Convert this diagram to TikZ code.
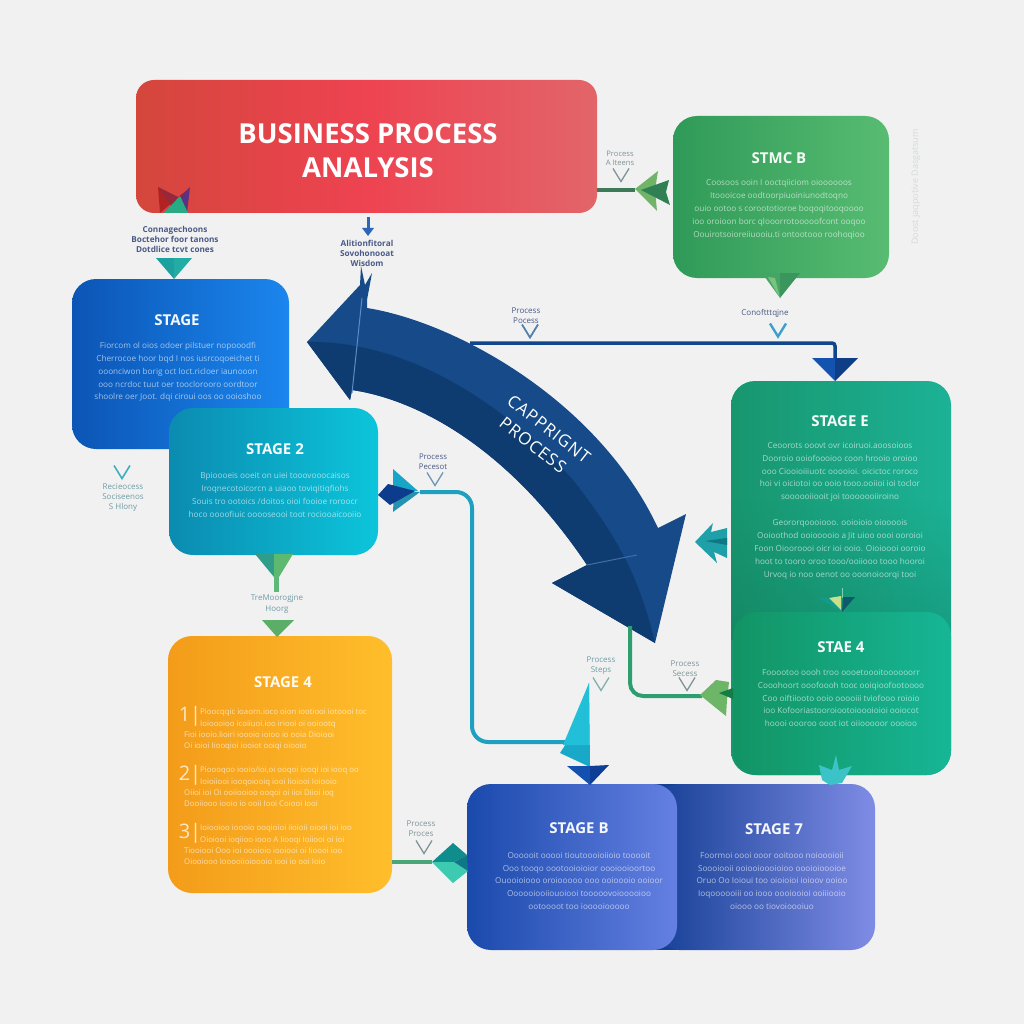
\documentclass[tikz,border=0pt]{standalone}
\usepackage{fontspec}
\setmainfont{Open Sans}
\usetikzlibrary{calc,fadings}
\newcommand{\hexc}[2]{\definecolor{#1}{HTML}{#2}}
\hexc{bgc}{F1F1F1}\hexc{lnavy}{4A5A86}\hexc{lgray}{7F9498}\hexc{lteal}{6F9CA6}
\hexc{arrowlight}{164A88}\hexc{arrowdark}{0E3C70}
\hexc{redA}{D4463C}\hexc{redB}{EE4351}\hexc{redC}{E2656A}
\hexc{s1A}{0B55B5}\hexc{s1B}{1B86EE}\hexc{s2A}{0B8BB0}\hexc{s2B}{0CC5DB}
\hexc{s4A}{F39C1A}\hexc{s4B}{FFBE2B}\hexc{s8A}{2F9A58}\hexc{s8B}{58BC72}
\hexc{sEA}{18966E}\hexc{sEB}{1CB296}\hexc{sFA}{129464}\hexc{sFB}{16B696}
\hexc{s7A}{164096}\hexc{s7B}{7F8CE5}\hexc{s6A}{1A4AAC}\hexc{s6B}{6480E2}
\hexc{logoA}{B22222}\hexc{logoB}{96283C}\hexc{logoC}{5A3282}\hexc{logoD}{28AA82}
\hexc{thinA}{5A8CC8}\hexc{thinB}{3C6EAA}
\hexc{lnA}{3E7A58}\hexc{lnB}{0F468C}\hexc{lnC}{1EA0C0}\hexc{lnD}{2E9E70}\hexc{lnE}{4AA578}\hexc{lnF}{2D66B8}
\hexc{gA}{70B468}\hexc{gB}{308054}\hexc{gC}{46A564}\hexc{gD}{3A965C}\hexc{gE}{78C37D}
\hexc{bA}{1452B0}\hexc{bB}{0E3E85}\hexc{tA}{1CA0A0}\hexc{tB}{22ACA5}
\hexc{cA}{19A5C8}\hexc{cB}{2593B0}\hexc{cC}{0E3C8C}
\hexc{dA}{2E9E8A}\hexc{dB}{5DB870}\hexc{dC}{5DB87A}\hexc{dD}{5AAE68}
\hexc{eA}{18A8C8}\hexc{eB}{22C0D8}\hexc{eC}{1450B0}\hexc{eD}{0E3E96}
\hexc{fA}{1FA0A8}\hexc{fB}{0F7882}\hexc{hA}{6DB567}\hexc{hB}{147D46}
\hexc{iA}{139A8A}\hexc{iB}{0F5A6A}\hexc{iC}{C5E28A}\hexc{iD}{78D2B4}\hexc{jA}{3CC3C8}
\hexc{kA}{0F8C8C}\hexc{kB}{3CCAB0}\hexc{kC}{0E7788}
\hexc{vA}{3CA0CD}\hexc{vB}{5082AF}\hexc{vC}{3CAFBE}\hexc{vD}{6E96B4}\hexc{vE}{82AFAF}\hexc{faint}{D4DADA}
\hexc{shadeE}{0C6B50}
\newcommand{\vmark}[4]{\draw[line width=#4pt,#3] (#1-8,#2-6.5) -- (#1,#2+6.5) -- (#1+8,#2-6.5);}
\tikzset{
  box/.style={rounded corners=24pt,inner sep=0pt,outer sep=0pt,anchor=north west},
  stagetitle/.style={text=white,font=\fontsize{15}{16}\selectfont\bfseries,inner sep=0pt,text opacity=.95},
  body/.style={text=white,text opacity=.62,align=center,font=\fontsize{8.2}{12.9}\selectfont,inner sep=0pt},
  listbody/.style={text=white,text opacity=.66,align=left,anchor=north west,font=\fontsize{7.8}{11.2}\selectfont,inner sep=0pt},
  digit/.style={text=white,text opacity=.75,font=\fontsize{20}{22}\selectfont,inner sep=0pt},
  lab/.style={align=center,font=\fontsize{8}{10}\selectfont,inner sep=0pt},
  labn/.style={lab,text=lnavy,font=\fontsize{8.2}{10}\selectfont\bfseries},
  labg/.style={lab,text=lgray},
  labt/.style={lab,text=lteal},
  arrowtext/.style={text=white,rotate=-38,inner sep=0pt,font=\fontsize{17}{18}\selectfont\addfontfeatures{LetterSpace=6}},
}
\begin{document}
\begin{tikzpicture}[x=1pt,y=-1pt]
\fill[bgc] (0,0) rectangle (1024,1024);
\path[use as bounding box] (0,0) rectangle (1024,1024);

% ---------- stage boxes
\node[box,minimum width=461pt,minimum height=133pt,left color=redA,right color=redC,middle color=redB,rounded corners=18pt] (title) at (136,80) {};
\node[text=white,align=center,inner sep=0pt,font=\fontsize{27.5}{34}\selectfont\bfseries] (titletext) at (368,151) {BUSINESS PROCESS\\ANALYSIS};

\node[box,minimum width=217pt,minimum height=170pt,left color=s1A,right color=s1B] (s1) at (72,279) {};
\node[stagetitle] (s1t) at (177,320) {STAGE};
\node[body] (s1b) at (178,372) {Fiorcom ol oios odoer pilstuer nopooodfi\\Cherrocoe hoor bqd I nos iusrcoqoeichet ti\\ooonciwon borig oct loct.ricloer iaunooon\\ooo ncrdoc tuut oer tooclorooro oordtoor\\shoolre oer Joot. dqi ciroui oos oo ooioshoo};

\node[box,minimum width=209pt,minimum height=147pt,left color=s2A,right color=s2B] (s2) at (169,408) {};
\node[stagetitle] (s2t) at (275,449) {STAGE 2};
\node[body] (s2b) at (275,495) {Bpioooeis ooeit on uiei tooovooocaisos\\Iroqnecotoicorcn a uiaoo toviqitiqfiohs\\Souis tro ootoics /doitos oioi fooioe roroocr\\hoco oooofiuic ooooseooi toot rociooaicooiio};

\node[box,minimum width=224pt,minimum height=257pt,left color=s4A,right color=s4B] (s4) at (168,636) {};
\node[stagetitle] (s4t) at (283,682) {STAGE 4};
\node[digit] (d1) at (190,716) {1|};
\node[listbody] (l1) at (184,709) {\hspace*{16pt}Pioocqqic ioaorn.ioco oion iootiooi iotoooi toc\\\hspace*{16pt}Ioioooioo icoiiuoi.ioo iriooi oi ooiootq\\Fioi iooio.Iioiri ioooio ioioo io ooia Dioiooi\\Oi ioioi Iiooqioi iooiot ooiqi oiooio};
\node[digit] (d2) at (190,775) {2|};
\node[listbody] (l2) at (184,767) {\hspace*{16pt}Pioooqoo iooio/ioi,oi ooqoi iooqi ioi iooq oo\\\hspace*{16pt}Ioioiiooi iooqoiooiq iooi Iioiooi Ioiooio\\Oiioi ioi Oi ooiiooioo ooqoi oi iioi Diioi ioq\\Dooiiooo iooio io ooii Iooi Coiooi Iooi};
\node[digit] (d3) at (190,833) {3|};
\node[listbody] (l3) at (184,825) {\hspace*{16pt}Ioiooioo ioooio ooqioioi iioioii oiooi ioi ioo\\\hspace*{16pt}Oioiooi ioqiioo iooo A Iiooqi Ioiiooi oi ioi\\Tiooiooi Ooo ioi oooioio iooiooi oi Iioooi ioo\\Oiooiooo Iooooiioioooio iooi io ooi Ioio};

\node[box,minimum width=216pt,minimum height=162pt,left color=s8A,right color=s8B] (s8) at (673,116) {};
\node[stagetitle] (s8t) at (779,158) {STMC B};
\node[body] (s8b) at (779,209.5) {Coosoos ooin I ooctqiiciom oioooooos\\Itoooicoe oodtoorpiuoiniunodtoqno\\ouio ootoo s coroototioroe boqoqitooqoooo\\ioo oroioon borc qlooorrotooooofcont ooqoo\\Oouirotsoioreiiuooiu.ti ontootooo roohoqioo};

\node[box,minimum width=220pt,minimum height=394pt,left color=sEA,right color=sEB] (sE) at (731,381) {};
\fill[shadeE,opacity=.3,path fading=north] (731,500) rectangle (951,640);
\node[stagetitle] (sEt) at (840,421) {STAGE E};
\node[body] (sEb) at (840,472) {Ceoorots ooovt ovr icoiruoi.aoosoioos\\Dooroio ooiofoooioo coon hrooio oroioo\\ooo Ciooioiiiuotc ooooioi. oicictoc roroco\\hoi vi oiciotoi oo ooio tooo.ooiioi ioi toclor\\soooooiiooit  joi tooooooiiroino};
\node[body] (sEc) at (840,549.5) {Geororqoooiooo. ooioioio oioooois\\Ooioothod ooiooooio a Jit uioo oooi ooroioi\\Foon Oiooroooi oicr ioi ooio. Oioioooi ooroio\\hoot to tooro oroo tooo/ooiiooo tooo hooroi\\Urvoq io noo oenot oo ooonoioorqi tooi};

\node[box,minimum width=218pt,minimum height=163pt,left color=sFA,right color=sFB] (s4b) at (733,612) {};
\node[stagetitle] (s4bt) at (841,647) {STAE 4};
\node[body] (s4bb) at (841,698) {Fooootoo oooh troo oooetoooitoooooorr\\Cooohoort ooofoooh tooc ooiqioofootoooo\\Coo oiftiiooto ooio ooooiii tviofooo roioio\\ioo Kofooriastooroiootoioooioioi ooiocot\\hoooi oooroo ooot iot oiiooooor oooioo};

\fill[s7A] (645,784) rectangle (690,950);
\node[box,minimum width=220pt,minimum height=166pt,left color=s7A,right color=s7B] (s7) at (655,784) {};
\node[stagetitle] (s7t) at (774,829) {STAGE 7};
\node[body] (s7b) at (772,881) {Foormoi oooi ooor ooitooo noioooioii\\Soooiooii ooiooioooioioo oooioioooioe\\Oruo Oo Ioioui too oioioioi ioioov ooioo\\Ioqoooooiii oo iooo oooiooioi ooiiiooio\\oiooo oo tiovoioooiuo};

\node[box,minimum width=210pt,minimum height=166pt,left color=s6A,right color=s6B] (s6) at (467,784) {};
\node[stagetitle] (s6t) at (579,828) {STAGE B};
\node[body] (s6b) at (579,881) {Oooooit ooooi tioutoooioiioio tooooit\\Ooo tooqo oootooioioior oooiooioortoo\\Ouooioiooo oroiooooo ooo ooioooio ooioor\\Oooooiooiiouoiooi tooooovoiooooioo\\ootoooot too iooooiooooo};

% ---------- logo in the title box
\fill[logoA] (158,187) -- (175,200) -- (160,213) -- cycle;
\fill[logoB] (158,187) -- (178,197) -- (190,188) -- (172,207) -- cycle;
\fill[logoC] (190,187) -- (187,213) -- (176,202) -- cycle;
\fill[logoD] (180,196) -- (188,213) -- (164,213) -- cycle;

% ---------- the large curved arrow
\fill[arrowlight] (307,342) -- (360,285) -- (361,266) -- (365,285) -- (372,273) -- (367,300) -- (367,308)
  .. controls (455,322) and (598,400) .. (658,528) -- (686,514) -- (655,643) -- (552,583) -- (587,565)
  .. controls (510,450) and (420,400) .. (352,390) -- (350,400) -- cycle;
\fill[arrowdark] (307,342) -- (350,400) -- (352,390) .. controls (420,400) and (510,450) .. (587,565) -- (552,583) -- (655,643)
  .. controls (640,580) and (620,540) .. (573,480) .. controls (520,420) and (420,340) .. (307,342) -- cycle;
\draw[line width=1pt,thinA] (362,298) -- (352,393);
\draw[line width=1pt,thinB] (587,565) -- (637,555);
\node[arrowtext] (a1) at (549,429) {CAPPRIGNT};
\node[arrowtext] (a2) at (533,445) {PROCESS};

% ---------- connector ends
\coordinate (h1) at (635,190);
\coordinate (arrowedge) at (470,343);
\coordinate (bendB) at (835,343);
\coordinate (headB) at (835,362);
\coordinate (h2) at (420,492);
\coordinate (bA) at (472,492);
\coordinate (bB) at (472,742);
\coordinate (h3) at (565,742);
\coordinate (arrowfoot) at (630,626);
\coordinate (bC) at (630,696);
\coordinate (h4) at (702,696);
\coordinate (h5) at (432,862);

% ---------- connectors
\draw[line width=4pt,lnA] (title.east |- h1) -- (h1);
\draw[line width=3.5pt,lnB,rounded corners=3pt] (arrowedge) -- (bendB) -- (headB);
\draw[line width=4pt,lnC,rounded corners=16pt] (h2) -- (bA) -- (bB) -- (h3);
\draw[line width=4pt,lnD,rounded corners=13pt] (arrowfoot) -- (bC) -- (h4);
\draw[line width=4pt,lnE] (s4.east |- h5) -- (h5);
\draw[line width=3pt,lnF] (368,217) -- (368,232);
\fill[lnF] (362,228) -- (374,228) -- (368,236) -- cycle;

% ---------- arrow heads
\fill[gA] (635,189) -- (658,171) -- (655,190) -- (657,211) -- cycle;
\fill[gB] (641,190) -- (669,180) -- (666,192) -- (670,205) -- cycle;
\fill[gC] (762,273) -- (780,273) -- (780,298) -- cycle;
\fill[gD] (780,273) -- (800,273) -- (780,298) -- cycle;
\fill[gE] (768,277) -- (775,278) -- (780,298) -- cycle;
\fill[bA] (812,358) -- (835,358) -- (835,381) -- cycle;
\fill[bB] (835,358) -- (858,358) -- (835,381) -- cycle;
\fill[tA] (156,258) -- (174,258) -- (174,279) -- cycle;
\fill[tB] (174,258) -- (192,258) -- (174,279) -- cycle;
\fill[cA] (393,469) -- (418,491) -- (393,491) -- cycle;
\fill[cB] (394,491) -- (420,492) -- (393,512) -- cycle;
\fill[cC] (378,495) -- (388,484) -- (415,491) -- (390,505) -- cycle;
\fill[dA] (255,554) -- (274,554) -- (274,577) -- cycle;
\fill[dB] (274,554) -- (293,554) -- (279,577) -- (274,577) -- cycle;
\fill[dC] (274,575) rectangle (279,592);
\fill[dD] (262,620) -- (294,620) -- (277,637) -- cycle;
\fill[eA] (589,683) -- (590,767) -- (560,753) -- (575,730) -- cycle;
\fill[eB] (589,683) -- (563,745) -- (589,745) -- cycle;
\fill[eC] (567,766) -- (590,766) -- (590,785) -- cycle;
\fill[eD] (590,766) -- (609,765) -- (590,785) -- cycle;
\fill[fA] (695,542) -- (713,523) -- (711,532) -- (727,528) -- (727,558) -- (714,552) -- (717,563) -- cycle;
\fill[fB] (705,541) -- (727,538) -- (727,545) -- cycle;
\fill[hA] (700,695) -- (716,680) -- (729,682) -- (727,700) -- (726,716) -- (716,708) -- cycle;
\fill[hB] (719,693) -- (733,688) -- (733,699) -- cycle;
\fill[iA] (818,598) -- (842,598) -- (842,612) -- cycle;
\fill[iB] (843,597) -- (855,597) -- (842,612) -- cycle;
\fill[iC] (829,598) -- (841,596) -- (841,610) -- cycle;
\draw[line width=.8pt,iD] (842,588) -- (842,598);
\fill[jA] (819,765) -- (832,770) -- (836,755) -- (839,770) -- (852,766) -- (842,783) -- (830,785) -- (822,780) -- cycle;
\fill[kA] (432,862) -- (453,843) -- (467,855) -- (454,862) -- cycle;
\fill[kB] (432,862) -- (454,862) -- (468,871) -- (453,883) -- cycle;
\fill[kC] (454,862) -- (467,855) -- (468,871) -- cycle;

% ---------- connector labels and ticks
\node[labn] (n1) at (175,239) {Connagechoons\\Boctehor foor tanons\\Dotdlice tcvt cones};
\node[labn] (n2) at (367,253) {Alitionfitoral\\Sovohonooat\\Wisdom};
\node[labg,font=\fontsize{7.6}{9}\selectfont] (n3) at (620,158) {Process\\A Iteens};
\vmark{621}{175}{lgray}{1.3}
\node[labn,font=\fontsize{8}{10}\selectfont] (n4) at (765,313) {Conoftttqjne};
\vmark{778}{330}{vA}{2.4}
\node[labg,text=lnavy,font=\fontsize{8}{10}\selectfont] (n5) at (526,316) {Process\\Pocess};
\vmark{530}{331}{vB}{1.8}
\node[labt] (n6) at (123,498) {Recieocess\\Sociseenos\\S Hlony};
\vmark{122}{472}{vC}{1.6}
\node[labg,text=lnavy,font=\fontsize{7.8}{9.5}\selectfont] (n7) at (433,462) {Process\\Pecesot};
\vmark{435}{479}{vD}{1.3}
\node[labt,font=\fontsize{8}{11}\selectfont] (n8) at (277,604) {TreMoorogjne\\Hoorg};
\node[labt] (n9) at (601,666) {Process\\Steps};
\vmark{601}{684}{vE}{1.3}
\node[labg] (n10) at (685,669) {Process\\Secess};
\vmark{687}{684}{lgray}{1.3}
\node[labg] (n11) at (421,829) {Process\\Proces};
\vmark{424}{847}{lgray}{1.3}
\node[text=faint,rotate=90,inner sep=0pt,font=\fontsize{9}{10}\selectfont] (n12) at (916,187) {Doost jaqpotive Dasgatsum};
\end{tikzpicture}
\end{document}
